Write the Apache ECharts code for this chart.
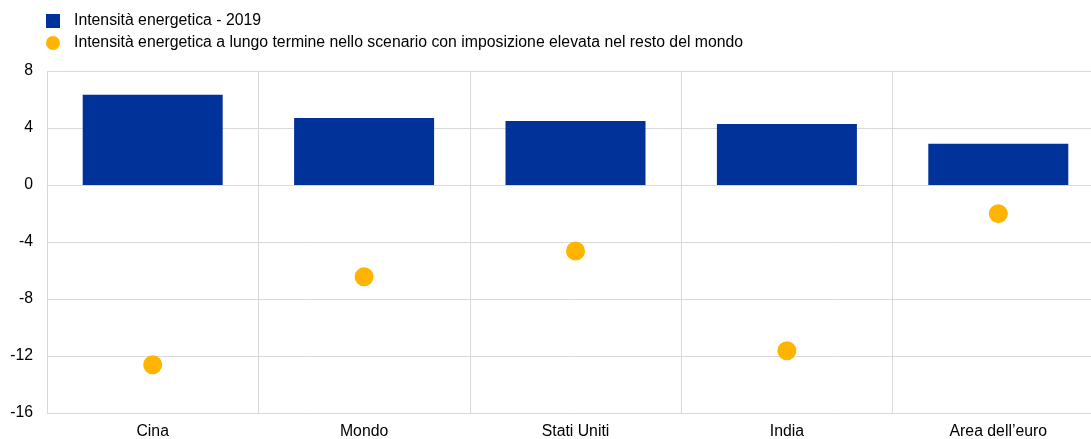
<!DOCTYPE html>
<html>
<head>
<meta charset="utf-8">
<script src="https://cdn.jsdelivr.net/npm/echarts@6/dist/echarts.min.js"></script>
<style>
  html, body { margin: 0; padding: 0; background: #fff; overflow: hidden; }
  #chart { width: 1104px; height: 439px; }
</style>
</head>
<body>
<div id="chart"></div>
<script>
// ---------------- Data ----------------
let categories = ["Cina", "Mondo", "Stati Uniti", "India", "Area dell\u2019euro"];
let intensity_2019 = [6.33, 4.70, 4.49, 4.28, 2.90];
let intensity_long_term = [-12.61, -6.44, -4.63, -11.63, -2.01];
let y_ticks = { min: -16, max: 8, interval: 4 };

let name_bar = "Intensità energetica - 2019";
let name_dot = "Intensità energetica a lungo termine nello scenario con imposizione elevata nel resto del mondo";

// ---------------- Style ----------------
let font_family = "'Liberation Sans', Arial, sans-serif";
let font_size = 15.8;
let grid_color = "#d9d9d9";
let text_color = "#000";

// the plot runs a little past the right edge of the window, so the chart is wider than the page
let chart_dom = document.getElementById("chart");
let chart = echarts.init(chart_dom);

let option = {
    backgroundColor: "#fff",
    animation: false,
    textStyle: { fontFamily: font_family },
    legend: {
        orient: "vertical",
        left: 46,
        top: 13,
        padding: 0,
        itemWidth: 14,
        itemHeight: 14,
        itemGap: 6,
        textStyle: { fontSize: font_size, color: text_color, fontFamily: font_family, padding: [2, 0, 0, 9] },
        data: [
            { name: name_bar, icon: "rect" },
            { name: name_dot, icon: "circle" }
        ]
    },
    grid: {
        left: 47,
        top: 71,
        right: 0,
        height: 342,
        containLabel: false,
        outerBoundsMode: "none"   // keep the grid where it is, labels may touch the edge
    },
    xAxis: {
        type: "category",
        data: categories,
        boundaryGap: true,
        axisLine: { show: true, lineStyle: { color: grid_color } },
        axisTick: { show: false },
        axisLabel: { color: text_color, fontSize: font_size, margin: 11, fontFamily: font_family },
        splitLine: { show: true, lineStyle: { color: grid_color, width: 1 } }
    },
    yAxis: {
        type: "value",
        min: y_ticks.min,
        max: y_ticks.max,
        interval: y_ticks.interval,
        axisLine: { show: false },
        axisTick: { show: false },
        axisLabel: { color: text_color, fontSize: font_size, margin: 14, fontFamily: font_family },
        splitLine: { show: true, lineStyle: { color: grid_color, width: 1 } }
    },
    series: [
        {
            name: name_bar,
            type: "bar",
            data: intensity_2019,
            barWidth: 140,
            itemStyle: { color: "#003299" }
        },
        {
            name: name_dot,
            type: "scatter",
            data: intensity_long_term,
            symbol: "circle",
            symbolSize: 19,
            itemStyle: { color: "#ffb400", opacity: 1 },
            z: 3
        }
    ]
};

chart.setOption(option, true);
</script>
</body>
</html>
